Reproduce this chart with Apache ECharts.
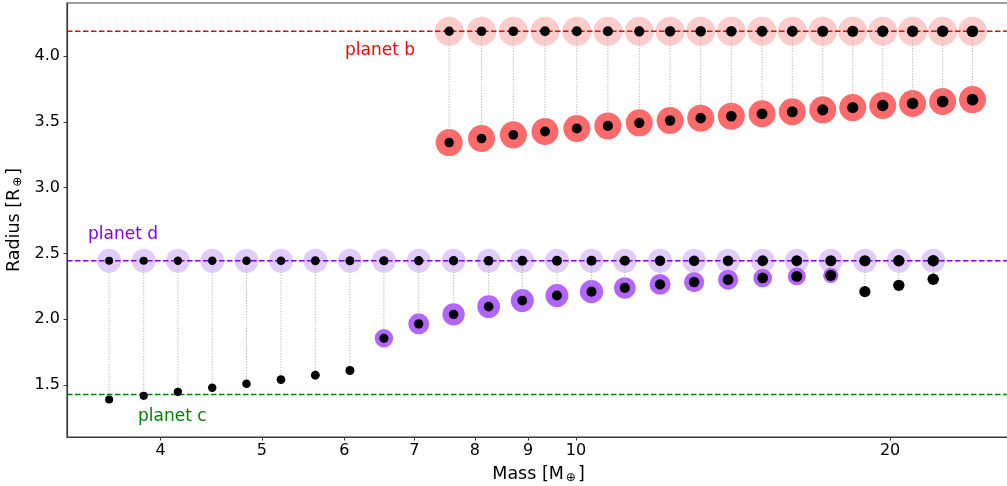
<!DOCTYPE html>
<html>
<head>
<meta charset="utf-8">
<script src="https://cdn.jsdelivr.net/npm/echarts@6/dist/echarts.min.js"></script>
<style>
html,body{margin:0;padding:0;background:#fff;}
#chart{width:1007px;height:486px;}
</style>
</head>
<body>
<div id="chart"></div>
<script>
// ---- data ----
const xTicks = [4, 5, 6, 7, 8, 9, 10, 20];
const yTicks = [1.5, 2.0, 2.5, 3.0, 3.5, 4.0];
const xRange = [3.253, 26.06];
const yRange = [1.103, 4.405];

const planetB = 4.19;   // observed radius of planet b
const planetD = 2.444;  // observed radius of planet d
const planetC = 1.426;  // observed radius of planet c

const bMass = [7.56, 8.12, 8.71, 9.34, 10.02, 10.73, 11.50, 12.31, 13.17, 14.09, 15.08, 16.12, 17.24, 18.42, 19.68, 21.02, 22.46, 23.99];
const bRadius = [3.343, 3.374, 3.402, 3.427, 3.450, 3.470, 3.493, 3.511, 3.529, 3.544, 3.562, 3.577, 3.592, 3.609, 3.625, 3.640, 3.655, 3.670];

const dMass = [3.57, 3.853, 4.155, 4.482, 4.834, 5.216, 5.627, 6.073, 6.546, 7.069, 7.634, 8.248, 8.884, 9.59, 10.35, 11.14, 12.04, 12.98, 13.99, 15.10, 16.28, 17.55, 18.92, 20.39, 22.0];
const dRadius = [1.388, 1.416, 1.447, 1.477, 1.508, 1.540, 1.573, 1.609, 1.854, 1.964, 2.036, 2.095, 2.141, 2.179, 2.209, 2.237, 2.264, 2.282, 2.300, 2.313, 2.325, 2.333, 2.209, 2.257, 2.303];
// relative envelope (0 = no envelope)
const dEnvelope = [0, 0, 0, 0, 0, 0, 0, 0, 0.80, 0.91, 0.97, 0.99, 1.0, 1.0, 1.01, 0.94, 0.91, 0.88, 0.87, 0.81, 0.78, 0.67, 0, 0, 0];

// ---- chart ----
const FONT = 'DejaVu Sans';
const coreSize = m => 8 + 3.7 * (Math.log10(m) - 0.5527) / 0.8275;

const bTop = bMass.map(m => [m, planetB]);
const bLow = bMass.map((m, i) => [m, bRadius[i]]);
const dTop = dMass.map(m => [m, planetD]);
const dLow = dMass.map((m, i) => [m, dRadius[i]]);
const dRing = dMass.map((m, i) => [m, dRadius[i], dEnvelope[i]]).filter(p => p[2] > 0);
const connectors = bMass.map((m, i) => [m, planetB, bRadius[i]])
  .concat(dMass.map((m, i) => [m, planetD, dRadius[i]]));

const chart = echarts.init(document.getElementById('chart'), null, {renderer: 'canvas'});

const blackSeries = data => ({
  type: 'scatter', data: data, z: 6, silent: true,
  symbolSize: v => coreSize(v[0]),
  itemStyle: {color: '#000', opacity: 1}
});

const refLine = (value, color) => ({
  type: 'line', z: 4, silent: true, symbol: 'none', showSymbol: false, clip: true,
  data: [[xRange[0], value], [xRange[1], value]],
  itemStyle: {color: color},
  lineStyle: {color: color, type: [5.5, 2.5], width: 1.5, opacity: 1},
  emphasis: {disabled: true}
});

const option = {
  animation: false,
  backgroundColor: '#fff',
  textStyle: {fontFamily: FONT},
  grid: {left: 67, right: -3, top: 3, bottom: 49, show: true, borderColor: '#3a3a3a', borderWidth: 1.2,
    backgroundColor: 'transparent', outerBoundsMode: 'none', containLabel: false},
  xAxis: {
    type: 'log', logBase: 10, min: xRange[0], max: xRange[1],
    name: 'Mass [M{s|⊕}]', nameLocation: 'middle', nameGap: 28,
    nameTextStyle: {fontSize: 17.5, color: '#000', fontFamily: FONT,
      rich: {s: {fontSize: 12, color: '#000', fontFamily: FONT, padding: [7, 2, 0, 2]}}},
    axisLine: {show: true, lineStyle: {color: '#3a3a3a', width: 1.2}},
    axisTick: {show: true, customValues: xTicks, length: 3.5, lineStyle: {color: '#3a3a3a', width: 1}},
    axisLabel: {show: true, customValues: xTicks, fontSize: 16, color: '#000', fontFamily: FONT, margin: 6,
      formatter: v => String(Math.round(v))},
    splitLine: {show: false}, minorTick: {show: false}, minorSplitLine: {show: false}
  },
  yAxis: {
    type: 'value', min: yRange[0], max: yRange[1],
    name: 'Radius [R{s|⊕}]', nameLocation: 'middle', nameGap: 34, nameRotate: 90,
    nameTextStyle: {fontSize: 17.5, color: '#000', fontFamily: FONT,
      rich: {s: {fontSize: 12, color: '#000', fontFamily: FONT, padding: [7, 2, 0, 2]}}},
    axisLine: {show: true, lineStyle: {color: '#3a3a3a', width: 1.2}},
    axisTick: {show: true, customValues: yTicks, length: 3.5, lineStyle: {color: '#3a3a3a', width: 1}},
    axisLabel: {show: true, customValues: yTicks, fontSize: 16, color: '#000', fontFamily: FONT, margin: 7,
      formatter: v => v.toFixed(1)},
    splitLine: {show: false}
  },
  series: [
    {type: 'scatter', data: bTop, symbolSize: 29, z: 1, silent: true, itemStyle: {color: '#ffcccc', opacity: 1}},
    {type: 'scatter', data: bLow, symbolSize: 27, z: 1, silent: true, itemStyle: {color: '#ff6a6a', opacity: 1}},
    {type: 'scatter', data: dTop, symbolSize: 24, z: 1, silent: true, itemStyle: {color: '#e2ccff', opacity: 1}},
    {type: 'scatter', data: dRing, symbolSize: v => 23 * v[2], z: 1, silent: true, itemStyle: {color: '#b266ff', opacity: 1}},
    {
      type: 'custom', data: connectors, z: 3, silent: true,
      encode: {x: 0, y: [1, 2]},
      renderItem: (params, api) => {
        const p1 = api.coord([api.value(0), api.value(1)]);
        const p2 = api.coord([api.value(0), api.value(2)]);
        return {type: 'line', shape: {x1: p1[0], y1: p1[1], x2: p2[0], y2: p2[1]},
          style: {stroke: '#b0b0b0', lineWidth: 1, lineDash: [1.2, 1.6]}};
      }
    },
    refLine(planetB, '#ff0000'),
    refLine(planetD, '#8000ff'),
    refLine(planetC, '#008000'),
    blackSeries(bTop), blackSeries(bLow), blackSeries(dTop), blackSeries(dLow)
  ],
  graphic: [
    {type: 'text', x: 345, y: 50.5, silent: true, style: {text: 'planet b', fill: '#ff0000', font: '17px "DejaVu Sans"', verticalAlign: 'middle', textVerticalAlign: 'middle'}},
    {type: 'text', x: 88, y: 235, silent: true, style: {text: 'planet d', fill: '#8000ff', font: '17px "DejaVu Sans"', verticalAlign: 'middle', textVerticalAlign: 'middle'}},
    {type: 'text', x: 138, y: 416.5, silent: true, style: {text: 'planet c', fill: '#008000', font: '17px "DejaVu Sans"', verticalAlign: 'middle', textVerticalAlign: 'middle'}}
  ]
};
chart.setOption(option);
</script>
</body>
</html>
